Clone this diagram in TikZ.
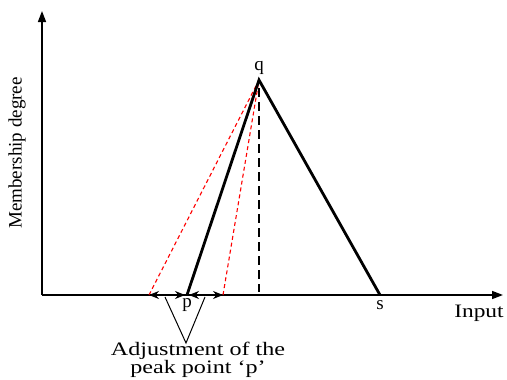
\documentclass[tikz,border=0pt]{standalone}
\usepackage{fontspec}
\setmainfont{Liberation Serif}
\usetikzlibrary{arrows.meta}
\begin{document}
\begin{tikzpicture}[x=1pt,y=-1pt,
  axis/.style={line width=1.6pt,-{Triangle[length=11pt,width=8pt]}},
  mf/.style={line width=2.8pt},
  guide/.style={line width=2.8pt,dash pattern=on 9pt off 5pt},
  reddash/.style={red,line width=1.1pt,dash pattern=on 4pt off 3pt},
  adj/.style={line width=1.5pt,{Stealth[length=10pt,width=8pt]}-{Stealth[length=10pt,width=8pt]}},
  lbl/.style={font=\fontsize{19}{21}\selectfont,inner sep=0pt},
  callout/.style={line width=1pt}]
\useasboundingbox (0,0) rectangle (507,380);
\coordinate (O) at (42,295);
\coordinate (ytip) at (42,11);
\coordinate (xtip) at (503,295);
\coordinate (p) at (187,295);
\coordinate (q) at (259,80);
\coordinate (s) at (380,295);
\coordinate (pl) at (149,295);
\coordinate (pr) at (223,295);
\coordinate (qf) at (259,292);
\coordinate (pa) at (185,295);
\coordinate (pb) at (189,295);
\coordinate (t1) at (165,297);
\coordinate (t2) at (205,297);
\coordinate (t3) at (186,343);
% axes
\draw[axis] (O) -- (ytip);
\draw[axis] (O) -- (xtip);
% red dashed alternatives
\draw[reddash] (pl) -- (q);
\draw[reddash] (pr) -- (q);
% membership triangle
\draw[mf,line join=miter] (p) -- (q) -- (s);
\draw[guide] (q) ++(0,8) -- (qf);
% adjustment arrows
\draw[adj] (pl) -- (pa);
\draw[adj] (pb) -- (pr);
% callout
\draw[callout] (t1) -- (t3) -- (t2);
% labels
\node[lbl] (ql) at (259,68) {q};
\node[lbl] (pl2) at (187,305) {p};
\node[lbl] (sl) at (380,305) {s};
\node[lbl] (inp) at (479,313) {\scalebox{1.23}[1]{Input}};
\node[lbl,rotate=90] (mem) at (17,153) {Membership degree};
\node[lbl] (adj1) at (198,351) {\scalebox{1.27}[1]{Adjustment of the}};
\node[lbl] (adj2) at (198,369) {\scalebox{1.27}[1]{peak point ‘p’}};
\end{tikzpicture}
\end{document}
